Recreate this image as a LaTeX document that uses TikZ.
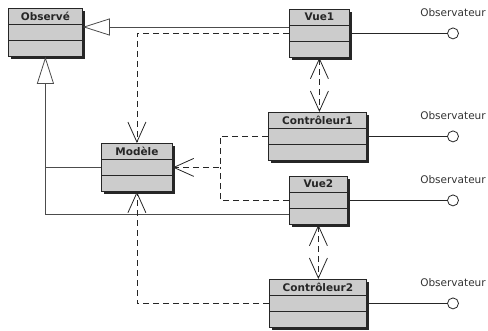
\documentclass[tikz,border=0pt]{standalone}
\usepackage{fontspec}
\setmainfont{DejaVu Sans}
\usetikzlibrary{arrows.meta,calc,shadows}

\tikzset{
  classbox/.style={draw=black!85, line width=0.8pt, fill=black!20, inner sep=0pt,
    drop shadow={shadow xshift=3pt, shadow yshift=-3pt, fill=black!85, opacity=1}},
  classline/.style={draw=black!85, line width=0.8pt},
  classtitle/.style={font=\fontsize{10.5}{12}\selectfont\bfseries, text=black!85, inner sep=0pt},
  lbl/.style={font=\fontsize{10.5}{12}\selectfont, text=black!80, inner sep=0pt},
  solidline/.style={draw=black!70, line width=0.8pt},
  gen/.style={solidline, -{Triangle[open, length=27pt, width=17pt]}},
  dep/.style={draw=black!85, line width=0.8pt, dash pattern=on 6pt off 4pt,
    -{Straight Barb[length=20pt, width=18pt]}},
  bidep/.style={dep, {Straight Barb[length=20pt, width=18pt]}-{Straight Barb[length=20pt, width=18pt]}},
  socket/.style={circle, draw=black!85, line width=0.8pt, fill=white, minimum size=11pt, inner sep=0pt},
}

% class box: name, x, y, width, title
\newcommand\umlclass[5]{%
  \node[classbox, minimum width=#4pt, minimum height=48pt, anchor=north west] (#1) at (#2,#3) {};
  \draw[classline] ($(#1.north west)+(0,16)$) -- ($(#1.north east)+(0,16)$);
  \draw[classline] ($(#1.north west)+(0,32)$) -- ($(#1.north east)+(0,32)$);
  \node[classtitle] (#1-title) at ($(#1.north)+(0,8)$) {#5};
}

% provided interface: box name, socket y offset label
\newcommand\lollipop[1]{%
  \node[socket] (#1-sock) at (453,0 |- #1.east) {};
  \draw[solidline, draw=black!85] (#1.east) -- (#1-sock.west);
  \node[lbl] (#1-lbl) at ($(#1-sock.center)+(0,-21)$) {Observateur};
}

\begin{document}
\begin{tikzpicture}[x=1pt, y=-1pt]
\useasboundingbox (0,0) rectangle (488,330);

\umlclass{obs}{8}{8}{74}{Observé}
\umlclass{vue1}{289}{9}{60}{Vue1}
\umlclass{ctrl1}{268}{112}{98}{Contrôleur1}
\umlclass{mod}{101}{143}{71}{Modèle}
\umlclass{vue2}{289}{176}{58}{Vue2}
\umlclass{ctrl2}{269}{279}{97}{Contrôleur2}

% observer interfaces
\lollipop{vue1}
\lollipop{ctrl1}
\lollipop{vue2}
\lollipop{ctrl2}

% generalizations towards Observé
\coordinate (v1gen) at ($(vue1.north west)+(0,18)$);
\draw[gen] (v1gen) -- (obs.east |- v1gen);
\coordinate (v2gen) at ($(vue2.south west)+(0,-10)$);
\draw[gen] (v2gen) -| (obs.south);
\draw[solidline] (mod.west) -- (obs.south |- mod.west);

% dependencies on Modèle
\coordinate (v1dep) at ($(vue1.north west)+(0,24)$);
\draw[dep] (v1dep) -| (mod.north);
\coordinate (junc) at (220,0 |- mod.east);
\draw[dep] (ctrl1.west) -| (junc) -- (mod.east);
\draw[dep, -] (vue2.west) -| (junc);
\draw[dep] (ctrl2.west) -| (mod.south);

% view <-> controller
\draw[bidep] (vue1.south) -- (vue1.south |- ctrl1.north);
\draw[bidep] (vue2.south) -- (vue2.south |- ctrl2.north);
\end{tikzpicture}
\end{document}
